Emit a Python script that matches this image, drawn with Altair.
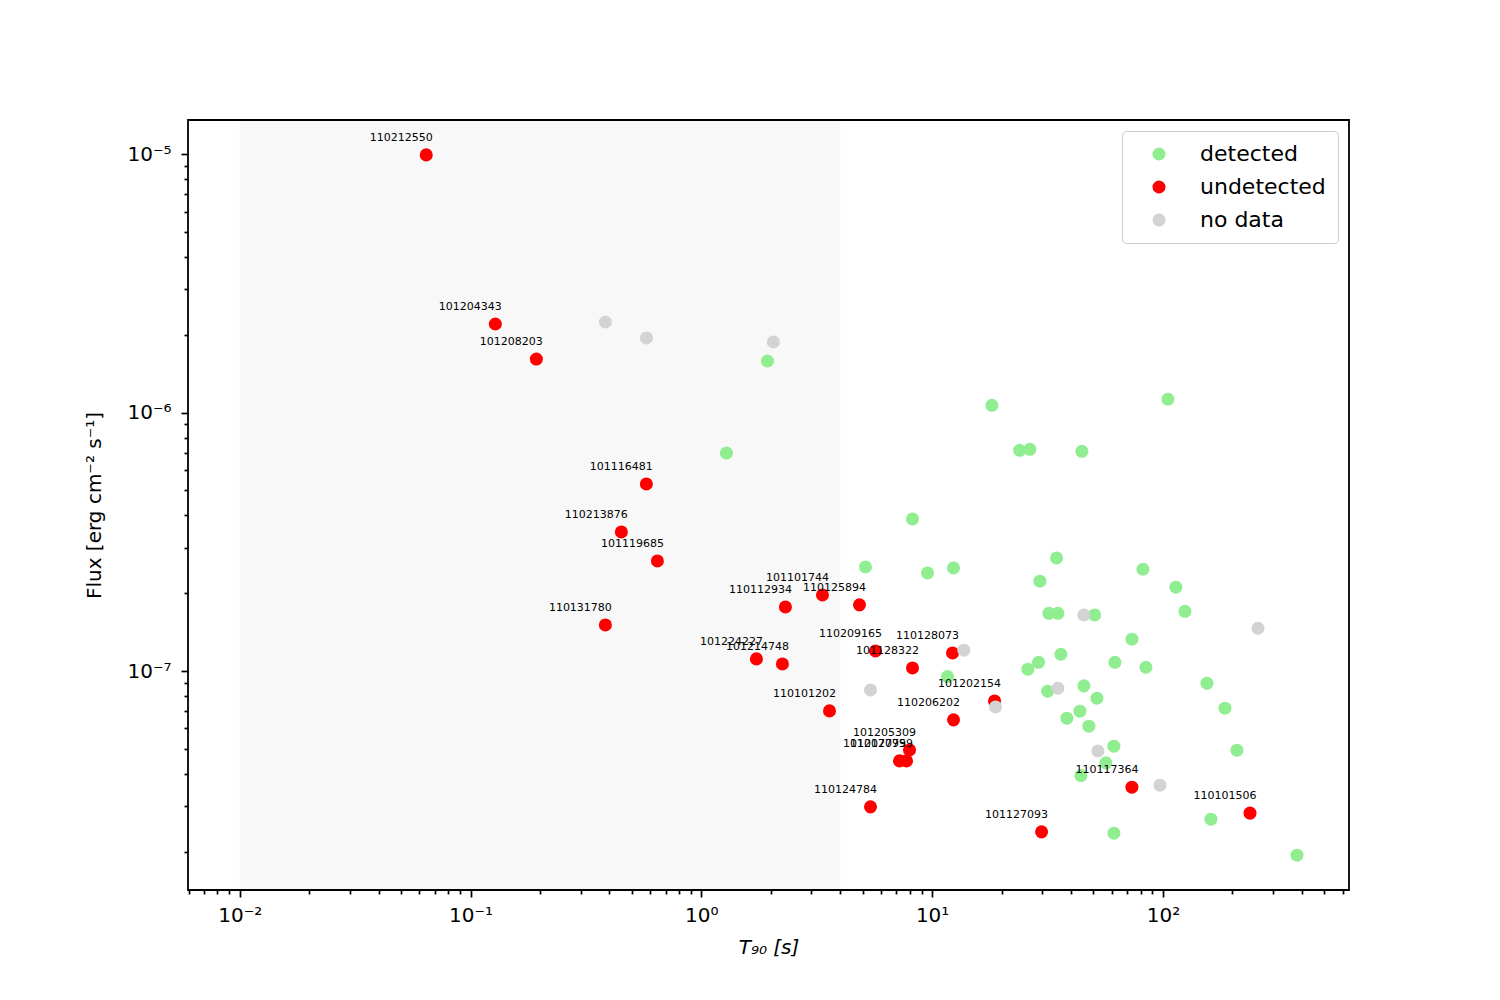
import altair as alt
import pandas as pd

# ---------------- data ----------------
categories = ["detected", "undetected", "no data"]
colors = ["#90ee90", "#ff0000", "#d3d3d3"]

det_t90 = [1.934, 1.285, 18.15, 105.1, 23.93, 26.51, 44.56, 8.222, 5.144, 9.55,
           12.38, 11.66, 34.61, 81.9, 29.30, 113.8, 32.05, 35.07, 50.58, 124.6,
           73.4, 36.14, 28.92, 25.99, 61.93, 84.4, 155.1, 31.64, 45.45, 51.75,
           185.7, 43.68, 38.36, 47.77, 61.31, 209.3, 56.6, 44.12, 161.4, 61.31,
           380.9]
det_flux = [1.585e-6, 6.98e-7, 1.068e-6, 1.127e-6, 7.151e-7, 7.215e-7, 7.087e-7, 3.879e-7, 2.529e-7, 2.397e-7,
            2.506e-7, 9.51e-8, 2.740e-7, 2.477e-7, 2.226e-7, 2.110e-7, 1.673e-7, 1.673e-7, 1.648e-7, 1.703e-7,
            1.328e-7, 1.161e-7, 1.081e-7, 1.016e-7, 1.081e-7, 1.034e-7, 8.97e-8, 8.35e-8, 8.76e-8, 7.847e-8,
            7.178e-8, 6.989e-8, 6.569e-8, 6.115e-8, 5.117e-8, 4.937e-8, 4.41e-8, 3.937e-8, 2.669e-8, 2.356e-8,
            1.937e-8]

und_names = ["110212550", "101204343", "101208203", "101116481", "110213876", "101119685",
             "110131780", "101101744", "110112934", "110125894", "101224227", "101214748",
             "110209165", "101128322", "110128073", "110101202", "101202154", "110206202",
             "101205309", "101207799", "110120759", "110124784", "101127093", "110117364",
             "110101506"]
und_t90 = [0.0643, 0.1281, 0.1929, 0.578, 0.4504, 0.6453,
           0.3840, 3.349, 2.314, 4.845, 1.733, 2.246,
           5.684, 8.222, 12.26, 3.592, 18.64, 12.38,
           7.98, 7.223, 7.745, 5.408, 29.80, 73.4,
           238.4]
und_flux = [9.95e-6, 2.204e-6, 1.613e-6, 5.30e-7, 3.454e-7, 2.668e-7,
            1.508e-7, 1.970e-7, 1.770e-7, 1.803e-7, 1.114e-7, 1.065e-7,
            1.196e-7, 1.028e-7, 1.175e-7, 7.008e-8, 7.66e-8, 6.47e-8,
            4.95e-8, 4.488e-8, 4.488e-8, 2.979e-8, 2.384e-8, 3.551e-8,
            2.817e-8]

nod_t90 = [0.384, 0.578, 2.053, 5.408, 13.72, 18.83, 45.45, 35.07, 52.28, 97.05, 258.1]
nod_flux = [2.244e-6, 1.946e-6, 1.878e-6, 8.45e-8, 1.204e-7, 7.262e-8, 1.648e-7, 8.578e-8,
            4.906e-8, 3.615e-8, 1.464e-7]

span_lo = [0.01]
span_hi = [4.0]

x_domain = [0.00597, 640]
y_domain = [1.42e-8, 1.358e-5]

# ---------------- tables ----------------
rows = []
for t, f in zip(det_t90, det_flux):
    rows.append({"t90": t, "flux": f, "status": "detected", "name": ""})
for t, f, n in zip(und_t90, und_flux, und_names):
    rows.append({"t90": t, "flux": f, "status": "undetected", "name": n})
for t, f in zip(nod_t90, nod_flux):
    rows.append({"t90": t, "flux": f, "status": "no data", "name": ""})
df = pd.DataFrame(rows)
df["order"] = range(len(df))
lab = df[df["status"] == "undetected"]
span = pd.DataFrame({"lo": span_lo, "hi": span_hi})


def tick_values(lo, hi):
    vals = []
    for e in range(-9, 4):
        for m in range(1, 10):
            v = float(f"{m}e{e}")
            if lo <= v <= hi:
                vals.append(v)
    return vals


sup = {'-': '⁻', '0': '⁰', '1': '¹', '2': '²', '3': '³', '4': '⁴',
       '5': '⁵', '6': '⁶', '7': '⁷', '8': '⁸', '9': '⁹'}
exps = list(range(-8, 4))
arr = "[" + ",".join("'10" + "".join(sup[c] for c in str(e)) + "'" for e in exps) + "]"
is_major = "abs(log(datum.value)/LN10 - round(log(datum.value)/LN10)) < 0.000001"
label_expr = f"({is_major}) ? {arr}[round(log(datum.value)/LN10) + 8] : ''"

FONT = "DejaVu Sans"


def mk_axis(values, title, title_pad, label_pad, **kw):
    return alt.Axis(
        values=values, labelExpr=label_expr, title=title,
        tickSize={"condition": {"test": is_major, "value": 7}, "value": 4},
        tickWidth=1.7, tickColor="black", domain=False, grid=False,
        labelFont=FONT, labelFontSize=20, labelColor="black", labelPadding=label_pad,
        titleFont=FONT, titleFontSize=20, titleFontWeight="normal", titleColor="black",
        titlePadding=title_pad, labelOverlap=False, labelFlush=False, **kw)


xscale = alt.Scale(type="log", domain=x_domain, nice=False)
yscale = alt.Scale(type="log", domain=y_domain, nice=False)

xaxis = mk_axis(tick_values(*x_domain), "T₉₀ [s]", 12, 8, titleFontStyle="italic")
yaxis = mk_axis(tick_values(*y_domain), "Flux [erg cm⁻² s⁻¹]", 22, 10)

band = alt.Chart(span).mark_rect(color="#000000", opacity=0.025,
                                 stroke="#000000", strokeOpacity=0.05, strokeWidth=1).encode(
    x=alt.X("lo:Q", scale=xscale, axis=xaxis),
    x2="hi:Q",
)

points = alt.Chart(df).mark_point(filled=True, opacity=1, size=170, shape="circle",
                                  strokeWidth=0).encode(
    x=alt.X("t90:Q", scale=xscale, axis=xaxis),
    y=alt.Y("flux:Q", scale=yscale, axis=yaxis),
    color=alt.Color("status:N", scale=alt.Scale(domain=categories, range=colors),
                    legend=alt.Legend(
                        title=None, orient="top-right", offset=11,
                        labelFont=FONT, labelFontSize=22, labelColor="black",
                        symbolSize=170, symbolType="circle", symbolStrokeWidth=0,
                        symbolOpacity=1,
                        strokeColor="#cccccc", fillColor="white", cornerRadius=4,
                        padding=12, rowPadding=11, labelOffset=30, symbolOffset=14)),
    order=alt.Order("order:Q"),
)

texts = alt.Chart(lab).mark_text(font=FONT, fontSize=11, dx=-25, dy=-17, color="black",
                                 align="center", baseline="middle").encode(
    x=alt.X("t90:Q", scale=xscale, axis=xaxis),
    y=alt.Y("flux:Q", scale=yscale, axis=yaxis),
    text="name:N",
)

chart = alt.layer(band, points, texts).properties(
    width=1161, height=770,
    autosize=alt.AutoSizeParams(type="none"),
    padding={"left": 180, "top": 112, "right": 140, "bottom": 100},
).configure(
    background="white",
    view=alt.ViewConfig(stroke="black", strokeWidth=1.8),
)

chart.save("out.html", embed_options={"renderer": "svg", "actions": False})
